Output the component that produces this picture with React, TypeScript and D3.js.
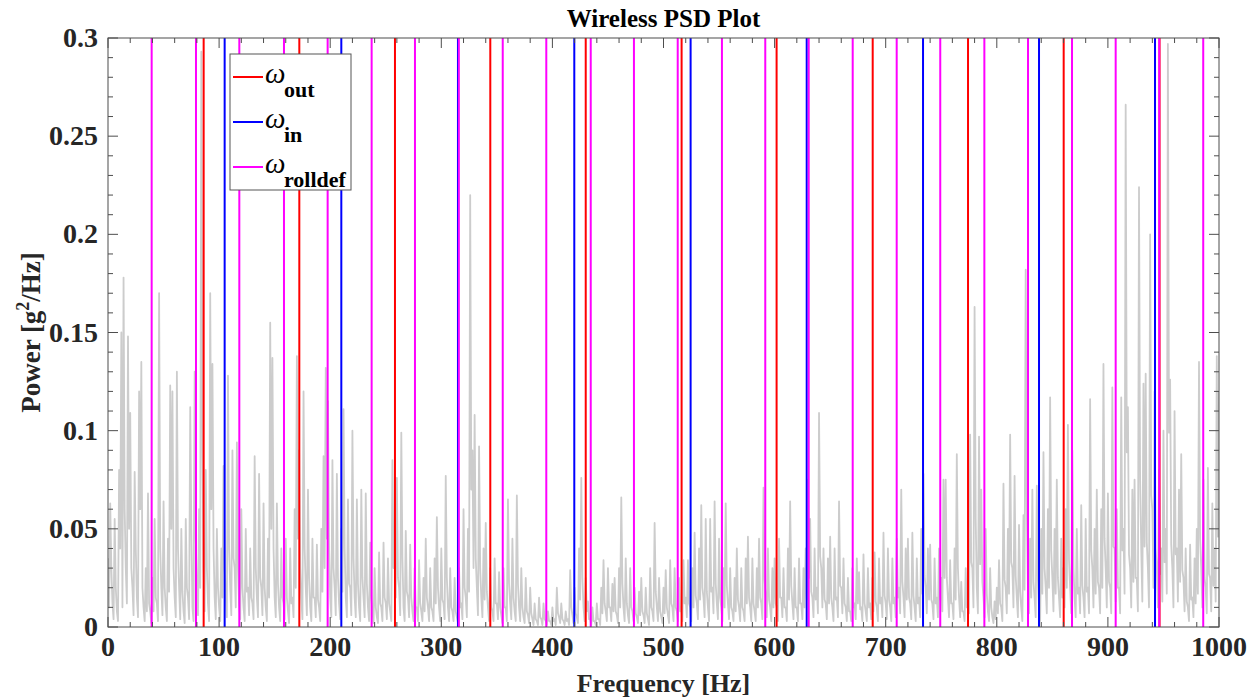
import React from 'react';
import * as d3 from 'd3';

// PSD local maxima read at even frequencies 0,2,...,1000 Hz (g^2/Hz)
const psdEvenHz = [
  0.035, 0.063, 0.012, 0.055, 0.008, 0.080, 0.150, 0.178, 0.030, 0.148,
  0.109, 0.020, 0.079, 0.015, 0.120, 0.135, 0.010, 0.030, 0.068, 0.008,
  0.025, 0.055, 0.012, 0.170, 0.020, 0.064, 0.010, 0.045, 0.123, 0.120,
  0.015, 0.130, 0.020, 0.050, 0.008, 0.055, 0.015, 0.112, 0.010, 0.130,
  0.020, 0.060, 0.293, 0.030, 0.080, 0.012, 0.170, 0.134, 0.015, 0.050,
  0.010, 0.040, 0.082, 0.015, 0.128, 0.020, 0.090, 0.030, 0.094, 0.012,
  0.060, 0.010, 0.050, 0.020, 0.040, 0.012, 0.087, 0.015, 0.078, 0.020,
  0.063, 0.010, 0.045, 0.155, 0.137, 0.015, 0.063, 0.010, 0.040, 0.012,
  0.045, 0.008, 0.040, 0.015, 0.060, 0.138, 0.090, 0.015, 0.120, 0.020,
  0.070, 0.010, 0.045, 0.015, 0.042, 0.010, 0.050, 0.087, 0.132, 0.115,
  0.015, 0.085, 0.020, 0.078, 0.012, 0.050, 0.111, 0.015, 0.065, 0.020,
  0.100, 0.015, 0.065, 0.010, 0.070, 0.015, 0.068, 0.010, 0.043, 0.008,
  0.030, 0.005, 0.038, 0.010, 0.043, 0.012, 0.035, 0.008, 0.085, 0.040,
  0.076, 0.020, 0.099, 0.010, 0.049, 0.015, 0.042, 0.008, 0.030, 0.010,
  0.034, 0.008, 0.025, 0.045, 0.010, 0.030, 0.008, 0.035, 0.056, 0.010,
  0.040, 0.012, 0.077, 0.010, 0.030, 0.008, 0.025, 0.005, 0.030, 0.012,
  0.060, 0.015, 0.050, 0.220, 0.090, 0.108, 0.020, 0.092, 0.015, 0.040,
  0.053, 0.010, 0.030, 0.008, 0.035, 0.012, 0.028, 0.006, 0.030, 0.010,
  0.065, 0.012, 0.045, 0.008, 0.067, 0.010, 0.030, 0.005, 0.025, 0.006,
  0.020, 0.004, 0.012, 0.003, 0.015, 0.004, 0.012, 0.003, 0.008, 0.003,
  0.010, 0.004, 0.020, 0.005, 0.012, 0.003, 0.008, 0.004, 0.029, 0.006,
  0.020, 0.005, 0.040, 0.076, 0.010, 0.025, 0.013, 0.004, 0.010, 0.003,
  0.012, 0.004, 0.020, 0.034, 0.008, 0.030, 0.010, 0.022, 0.025, 0.006,
  0.030, 0.066, 0.010, 0.035, 0.006, 0.030, 0.008, 0.020, 0.005, 0.018,
  0.025, 0.006, 0.020, 0.004, 0.030, 0.008, 0.053, 0.010, 0.025, 0.005,
  0.020, 0.029, 0.006, 0.034, 0.010, 0.030, 0.008, 0.025, 0.010, 0.034,
  0.015, 0.034, 0.010, 0.030, 0.048, 0.012, 0.040, 0.062, 0.015, 0.055,
  0.010, 0.055, 0.020, 0.064, 0.012, 0.045, 0.010, 0.030, 0.063, 0.012,
  0.030, 0.008, 0.025, 0.040, 0.010, 0.030, 0.008, 0.035, 0.046, 0.010,
  0.035, 0.008, 0.030, 0.045, 0.012, 0.071, 0.015, 0.040, 0.010, 0.030,
  0.035, 0.010, 0.045, 0.015, 0.030, 0.010, 0.040, 0.064, 0.012, 0.030,
  0.010, 0.035, 0.012, 0.030, 0.040, 0.075, 0.055, 0.015, 0.040, 0.020,
  0.109, 0.030, 0.040, 0.012, 0.035, 0.046, 0.010, 0.040, 0.015, 0.064,
  0.020, 0.035, 0.010, 0.025, 0.008, 0.030, 0.012, 0.035, 0.028, 0.010,
  0.037, 0.008, 0.030, 0.012, 0.025, 0.038, 0.010, 0.035, 0.015, 0.048,
  0.012, 0.040, 0.010, 0.035, 0.015, 0.045, 0.020, 0.070, 0.015, 0.040,
  0.045, 0.012, 0.048, 0.010, 0.035, 0.015, 0.050, 0.078, 0.020, 0.040,
  0.042, 0.012, 0.035, 0.015, 0.040, 0.025, 0.075, 0.075, 0.015, 0.034,
  0.012, 0.040, 0.088, 0.015, 0.023, 0.008, 0.030, 0.020, 0.098, 0.030,
  0.163, 0.020, 0.097, 0.070, 0.015, 0.050, 0.008, 0.030, 0.005, 0.013,
  0.020, 0.034, 0.010, 0.073, 0.020, 0.050, 0.098, 0.030, 0.077, 0.015,
  0.052, 0.010, 0.057, 0.182, 0.020, 0.045, 0.070, 0.015, 0.072, 0.010,
  0.050, 0.089, 0.020, 0.060, 0.117, 0.025, 0.050, 0.075, 0.015, 0.045,
  0.030, 0.060, 0.103, 0.020, 0.090, 0.015, 0.050, 0.020, 0.062, 0.015,
  0.055, 0.020, 0.116, 0.030, 0.050, 0.070, 0.020, 0.060, 0.134, 0.030,
  0.068, 0.020, 0.122, 0.040, 0.060, 0.020, 0.117, 0.050, 0.266, 0.112,
  0.030, 0.070, 0.075, 0.025, 0.224, 0.040, 0.124, 0.129, 0.030, 0.200,
  0.060, 0.120, 0.030, 0.080, 0.040, 0.100, 0.050, 0.297, 0.126, 0.030,
  0.110, 0.040, 0.070, 0.088, 0.025, 0.040, 0.010, 0.042, 0.015, 0.035,
  0.050, 0.135, 0.030, 0.075, 0.020, 0.081, 0.025, 0.063, 0.040, 0.138,
  0.120,
];

// PSD values read at odd frequencies 1,3,...,999 Hz (g^2/Hz)
const psdOddHz = [
  0.010, 0.030, 0.004, 0.020, 0.003, 0.040, 0.010, 0.060, 0.012, 0.050,
  0.030, 0.006, 0.040, 0.005, 0.060, 0.020, 0.003, 0.008, 0.012, 0.002,
  0.008, 0.015, 0.003, 0.040, 0.006, 0.020, 0.003, 0.018, 0.050, 0.030,
  0.005, 0.040, 0.004, 0.018, 0.002, 0.020, 0.004, 0.050, 0.003, 0.045,
  0.006, 0.020, 0.090, 0.008, 0.030, 0.003, 0.060, 0.040, 0.004, 0.020,
  0.003, 0.015, 0.030, 0.005, 0.040, 0.006, 0.035, 0.010, 0.030, 0.004,
  0.020, 0.003, 0.018, 0.006, 0.015, 0.004, 0.030, 0.005, 0.025, 0.006,
  0.020, 0.003, 0.015, 0.050, 0.040, 0.005, 0.022, 0.003, 0.015, 0.004,
  0.015, 0.002, 0.012, 0.005, 0.020, 0.045, 0.030, 0.004, 0.040, 0.006,
  0.025, 0.003, 0.015, 0.005, 0.014, 0.003, 0.018, 0.030, 0.045, 0.040,
  0.005, 0.030, 0.006, 0.025, 0.004, 0.018, 0.040, 0.005, 0.022, 0.006,
  0.035, 0.005, 0.022, 0.003, 0.025, 0.005, 0.022, 0.003, 0.015, 0.002,
  0.010, 0.002, 0.012, 0.003, 0.015, 0.004, 0.012, 0.003, 0.030, 0.015,
  0.025, 0.006, 0.035, 0.003, 0.018, 0.005, 0.015, 0.003, 0.010, 0.003,
  0.012, 0.003, 0.008, 0.015, 0.003, 0.010, 0.003, 0.012, 0.020, 0.003,
  0.014, 0.004, 0.025, 0.003, 0.010, 0.003, 0.008, 0.002, 0.010, 0.004,
  0.020, 0.005, 0.018, 0.070, 0.030, 0.035, 0.006, 0.030, 0.005, 0.014,
  0.018, 0.003, 0.010, 0.003, 0.012, 0.004, 0.010, 0.002, 0.010, 0.003,
  0.022, 0.004, 0.015, 0.003, 0.022, 0.003, 0.010, 0.002, 0.008, 0.002,
  0.007, 0.001, 0.004, 0.001, 0.005, 0.001, 0.004, 0.001, 0.003, 0.001,
  0.003, 0.001, 0.007, 0.002, 0.004, 0.001, 0.003, 0.001, 0.010, 0.002,
  0.007, 0.002, 0.014, 0.025, 0.003, 0.008, 0.004, 0.001, 0.003, 0.001,
  0.004, 0.001, 0.007, 0.012, 0.003, 0.010, 0.003, 0.008, 0.008, 0.002,
  0.010, 0.022, 0.003, 0.012, 0.002, 0.010, 0.003, 0.007, 0.002, 0.006,
  0.008, 0.002, 0.007, 0.001, 0.010, 0.003, 0.018, 0.003, 0.008, 0.002,
  0.007, 0.010, 0.002, 0.012, 0.003, 0.010, 0.003, 0.008, 0.003, 0.012,
  0.005, 0.012, 0.003, 0.010, 0.016, 0.004, 0.014, 0.020, 0.005, 0.018,
  0.003, 0.018, 0.007, 0.022, 0.004, 0.015, 0.003, 0.010, 0.021, 0.004,
  0.010, 0.003, 0.008, 0.014, 0.003, 0.010, 0.003, 0.012, 0.015, 0.003,
  0.012, 0.003, 0.010, 0.015, 0.004, 0.024, 0.005, 0.014, 0.003, 0.010,
  0.012, 0.003, 0.015, 0.005, 0.010, 0.003, 0.014, 0.021, 0.004, 0.010,
  0.003, 0.012, 0.004, 0.010, 0.014, 0.025, 0.018, 0.005, 0.014, 0.007,
  0.036, 0.010, 0.014, 0.004, 0.012, 0.015, 0.003, 0.014, 0.005, 0.021,
  0.007, 0.012, 0.003, 0.008, 0.003, 0.010, 0.004, 0.012, 0.009, 0.003,
  0.012, 0.003, 0.010, 0.004, 0.008, 0.013, 0.003, 0.012, 0.005, 0.016,
  0.004, 0.014, 0.003, 0.012, 0.005, 0.015, 0.007, 0.023, 0.005, 0.014,
  0.015, 0.004, 0.016, 0.003, 0.012, 0.005, 0.017, 0.026, 0.007, 0.014,
  0.014, 0.004, 0.012, 0.005, 0.014, 0.008, 0.025, 0.025, 0.005, 0.012,
  0.004, 0.014, 0.030, 0.005, 0.008, 0.003, 0.010, 0.007, 0.033, 0.010,
  0.055, 0.007, 0.032, 0.023, 0.005, 0.017, 0.003, 0.010, 0.002, 0.004,
  0.007, 0.012, 0.003, 0.024, 0.007, 0.017, 0.033, 0.010, 0.026, 0.005,
  0.018, 0.003, 0.019, 0.060, 0.007, 0.015, 0.023, 0.005, 0.024, 0.003,
  0.017, 0.030, 0.007, 0.020, 0.039, 0.008, 0.017, 0.025, 0.005, 0.015,
  0.010, 0.020, 0.034, 0.007, 0.030, 0.005, 0.017, 0.007, 0.021, 0.005,
  0.018, 0.007, 0.039, 0.010, 0.017, 0.023, 0.007, 0.020, 0.045, 0.010,
  0.023, 0.007, 0.041, 0.013, 0.020, 0.007, 0.039, 0.017, 0.089, 0.037,
  0.010, 0.023, 0.025, 0.008, 0.075, 0.013, 0.041, 0.043, 0.010, 0.067,
  0.020, 0.040, 0.010, 0.027, 0.013, 0.033, 0.017, 0.099, 0.042, 0.010,
  0.037, 0.013, 0.023, 0.029, 0.008, 0.013, 0.003, 0.014, 0.005, 0.012,
  0.017, 0.045, 0.010, 0.025, 0.007, 0.027, 0.008, 0.021, 0.013, 0.046,
];

// Characteristic fault frequencies (Hz)
const omegaOut = [86.1, 172.2, 258.3, 344.1, 430.0, 516.3, 601.8, 688.3, 774.1, 860.2, 946.5];
const omegaIn = [105.0, 210.0, 315.0, 419.7, 524.4, 628.9, 733.6, 838.0, 942.4];
const omegaRolldef = [39.3, 79.2, 118.2, 158.4, 197.7, 237.3, 276.3, 315.8, 355.3, 394.5, 434.5, 473.4,
  512.8, 552.6, 591.6, 630.7, 670.3, 709.9, 749.1, 788.8, 828.1, 867.7, 907.0, 946.2, 985.8];

const xTickValues = [0, 100, 200, 300, 400, 500, 600, 700, 800, 900, 1000];
const xTickLabels = ['0', '100', '200', '300', '400', '500', '600', '700', '800', '900', '1000'];
const yTickValues = [0, 0.05, 0.1, 0.15, 0.2, 0.25, 0.3];
const yTickLabels = ['0', '0.05', '0.1', '0.15', '0.2', '0.25', '0.3'];

const legendEntries = [
  { sub: 'out', color: '#ff0000' },
  { sub: 'in', color: '#0000ff' },
  { sub: 'rolldef', color: '#ff00ff' },
];

const W = 1255;
const H = 700;
const M = { left: 108, right: 1219, top: 38, bottom: 627 };
const FONT = '"Liberation Serif", "Times New Roman", serif';
const AXIS = '#4d4d4d';

export default function App() {
  const x = d3.scaleLinear().domain([0, 1000]).range([M.left, M.right]);
  const y = d3.scaleLinear().domain([0, 0.3]).range([M.bottom, M.top]);

  // merge the even- and odd-frequency readings into one 1 Hz series
  const psd: [number, number][] = [];
  psdEvenHz.forEach((v, i) => {
    psd.push([2 * i, v]);
    if (i < psdOddHz.length) psd.push([2 * i + 1, psdOddHz[i]]);
  });

  const psdLine = d3
    .line<[number, number]>()
    .x((d) => x(d[0]))
    .y((d) => y(d[1]));

  const xMinor = d3.range(0, 1001, 20);
  const yMinor = d3.range(0, 31, 1).map((v) => v / 100);

  const vline = (f: number, color: string, key: string) => (
    <line key={key} x1={x(f)} x2={x(f)} y1={y(0)} y2={y(0.3)} stroke={color} strokeWidth={2} />
  );

  return (
    <svg
      width={W}
      height={H}
      style={{ position: 'absolute', left: 0, top: 0, background: '#fff' }}
      fontFamily={FONT}
    >
      <defs>
        <clipPath id="plotClip">
          <rect x={M.left} y={M.top} width={M.right - M.left} height={M.bottom - M.top} />
        </clipPath>
      </defs>
      <rect x={M.left} y={M.top} width={M.right - M.left} height={M.bottom - M.top} fill="#fff" />

      <g clipPath="url(#plotClip)">
        <path d={psdLine(psd) || ''} fill="none" stroke="#cccccc" strokeWidth={1.8} strokeLinejoin="round" />
        {omegaOut.map((f, i) => vline(f, '#ff0000', 'o' + i))}
        {omegaIn.map((f, i) => vline(f, '#0000ff', 'i' + i))}
        {omegaRolldef.map((f, i) => vline(f, '#ff00ff', 'r' + i))}
      </g>

      {/* ticks */}
      <g stroke={AXIS} strokeWidth={1}>
        {xMinor.map((v) => {
          const major = v % 100 === 0;
          const len = major ? 10 : 5;
          return (
            <g key={'xm' + v}>
              <line x1={x(v)} x2={x(v)} y1={M.bottom} y2={M.bottom - len} />
              <line x1={x(v)} x2={x(v)} y1={M.top} y2={M.top + len} />
            </g>
          );
        })}
        {yMinor.map((v, i) => {
          const major = i % 5 === 0;
          const len = major ? 10 : 5;
          return (
            <g key={'ym' + i}>
              <line x1={M.left} x2={M.left + len} y1={y(v)} y2={y(v)} />
              <line x1={M.right} x2={M.right - len} y1={y(v)} y2={y(v)} />
            </g>
          );
        })}
      </g>
      <rect
        x={M.left}
        y={M.top}
        width={M.right - M.left}
        height={M.bottom - M.top}
        fill="none"
        stroke={AXIS}
        strokeWidth={1}
      />

      {/* tick labels */}
      <g fontWeight="bold" fontSize={28} fill="#262626">
        {xTickValues.map((v, i) => (
          <text key={'xl' + v} x={x(v)} y={656} textAnchor="middle">
            {xTickLabels[i]}
          </text>
        ))}
        {yTickValues.map((v, i) => (
          <text key={'yl' + v} x={M.left - 10} y={y(v) + 9} textAnchor="end">
            {yTickLabels[i]}
          </text>
        ))}
      </g>

      {/* title and axis labels */}
      <text x={(M.left + M.right) / 2} y={27} textAnchor="middle" fontWeight="bold" fontSize={25} fill="#000">
        Wireless PSD Plot
      </text>
      <text x={(M.left + M.right) / 2} y={692} textAnchor="middle" fontWeight="bold" fontSize={26} fill="#262626">
        Frequency [Hz]
      </text>
      <text
        transform={`translate(40, ${(M.top + M.bottom) / 2}) rotate(-90)`}
        textAnchor="middle"
        fontWeight="bold"
        fontSize={27}
        fill="#262626"
      >
        Power [g<tspan dy={-11} fontSize={18}>2</tspan>
        <tspan dy={11}>/Hz]</tspan>
      </text>

      {/* legend */}
      <g>
        <rect x={230} y={54} width={121} height={136} fill="#fff" stroke="#555" strokeWidth={1} />
        {legendEntries.map((e, i) => {
          const ly = 77 + i * 45;
          return (
            <g key={'lg' + i}>
              <line x1={233} x2={263} y1={ly} y2={ly} stroke={e.color} strokeWidth={2} />
              <text x={265} y={ly + 6} fontSize={29} fontStyle="italic" fill="#000">
                ω
              </text>
              <text x={284} y={ly + 20} fontSize={22} fontWeight="bold" fill="#000">
                {e.sub}
              </text>
            </g>
          );
        })}
      </g>
    </svg>
  );
}
